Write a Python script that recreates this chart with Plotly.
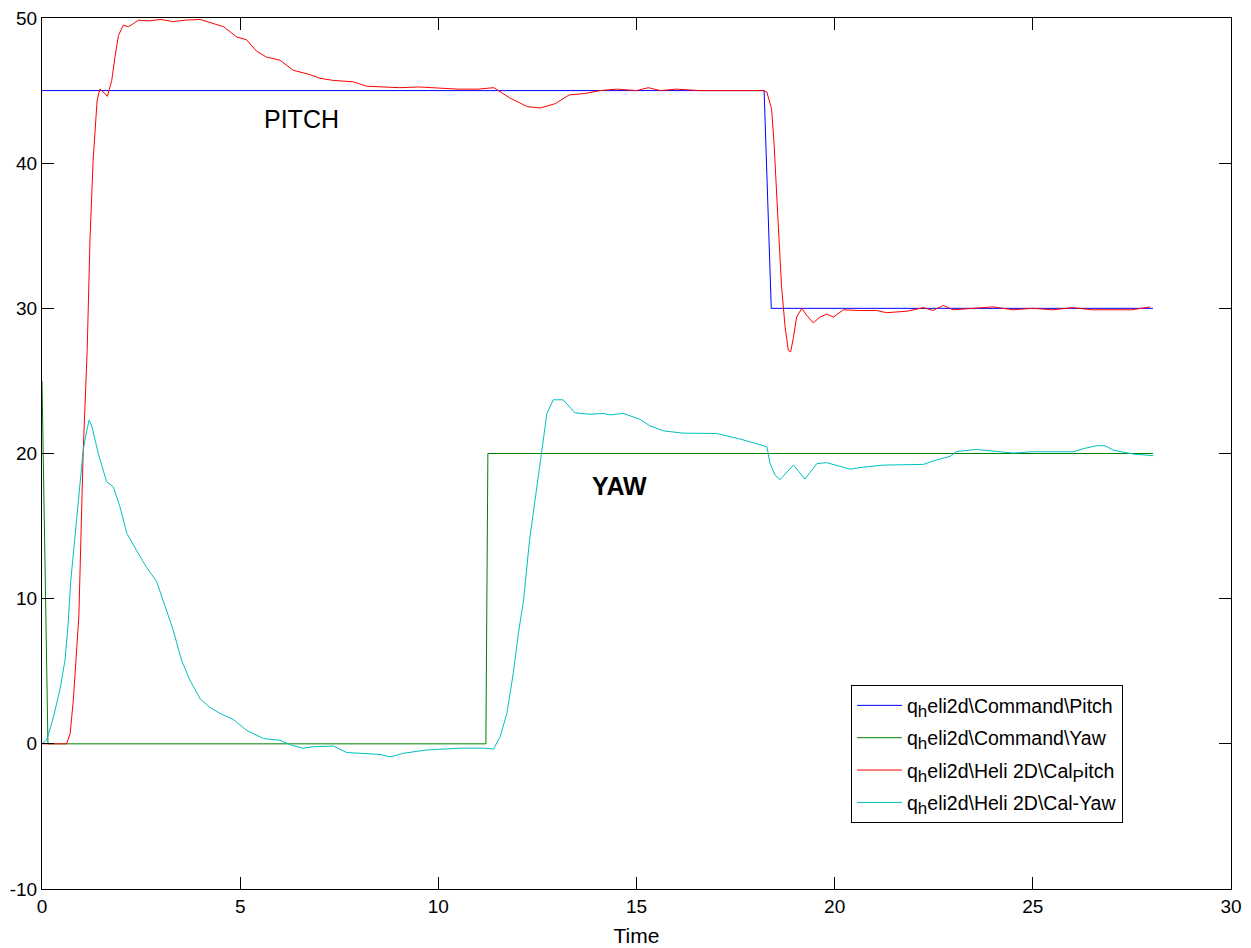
import plotly.graph_objects as go

# ---- data ----
pitch_cmd_t = [0, 18.22, 18.40, 28.03]
pitch_cmd_v = [45, 45, 30, 30]

yaw_cmd_t = [0, 0.15, 11.20, 11.25, 28.03]
yaw_cmd_v = [25, 0, 0, 20, 20]

pitch_t = [0, 0.62, 0.71, 0.79, 0.93, 1.04, 1.14, 1.21, 1.29, 1.39,
           1.46, 1.55, 1.65, 1.76, 1.84, 1.93, 2.05, 2.18, 2.30, 2.43,
           2.7, 3.0, 3.3, 3.6, 3.99, 4.32, 4.58, 4.91, 5.16, 5.42,
           5.67, 6.0, 6.34, 6.76, 7.01, 7.35, 7.86, 8.19, 9.03, 9.5,
           10.0, 10.5, 11.0, 11.4, 11.8, 12.24, 12.57, 12.95, 13.3, 13.7,
           14.08, 14.5, 15.0, 15.3, 15.6, 16.0, 16.6, 17.2, 17.8, 18.2,
           18.29, 18.41, 18.47, 18.5, 18.58, 18.66, 18.75, 18.83, 18.89, 18.96,
           19.04, 19.17, 19.3, 19.46, 19.63, 19.8, 19.97, 20.22, 20.6, 21.06,
           21.31, 21.82, 22.24, 22.48, 22.74, 22.99, 23.5, 24.0, 24.5, 25.0,
           25.5, 26.0, 26.5, 27.0, 27.5, 27.96]
pitch_v = [0, 0, 0.7, 3.0, 8.8, 20.2, 27.1, 34.7, 40.2, 44.3,
           45.1, 44.9, 44.6, 45.7, 47.3, 48.8, 49.5, 49.4, 49.6, 49.85,
           49.8, 49.9, 49.75, 49.85, 49.9, 49.6, 49.4, 48.7, 48.5, 47.7,
           47.3, 47.1, 46.4, 46.1, 45.85, 45.7, 45.6, 45.3, 45.2, 45.25,
           45.15, 45.1, 45.1, 45.2, 44.5, 43.9, 43.8, 44.1, 44.7, 44.8,
           45.0, 45.1, 45.0, 45.2, 45.0, 45.1, 45.0, 45.0, 45.0, 45.0,
           44.9, 43.7, 41.4, 39.5, 35.6, 31.5, 28.7, 27.1, 27.0, 28.0,
           29.4, 30.0, 29.5, 29.0, 29.4, 29.6, 29.4, 29.9, 29.85, 29.85,
           29.7, 29.8, 30.05, 29.85, 30.2, 29.9, 30.0, 30.1, 29.9, 30.0,
           29.9, 30.05, 29.9, 29.9, 29.9, 30.1]

yaw_t = [0, 0.12, 0.29, 0.45, 0.58, 0.66, 0.72, 0.83, 0.94, 1.04,
         1.13, 1.19, 1.25, 1.42, 1.63, 1.80, 1.97, 2.14, 2.39, 2.64,
         2.89, 3.06, 3.31, 3.52, 3.73, 3.99, 4.24, 4.49, 4.83, 5.16,
         5.59, 6.00, 6.30, 6.59, 6.85, 7.35, 7.69, 8.53, 8.78, 9.12,
         9.71, 10.55, 11.18, 11.39, 11.56, 11.73, 11.89, 12.02, 12.15, 12.30,
         12.44, 12.57, 12.74, 12.90, 13.15, 13.45, 13.83, 14.16, 14.33, 14.67,
         15.09, 15.34, 15.68, 16.18, 17.02, 17.61, 18.03, 18.29, 18.37, 18.50,
         18.62, 18.96, 19.25, 19.55, 19.80, 20.39, 20.72, 21.23, 22.24, 22.57,
         22.91, 23.08, 23.58, 24.00, 24.51, 25.01, 26.02, 26.27, 26.61, 26.82,
         27.03, 27.54, 28.04]
yaw_v = [0, 0.27, 1.86, 3.7, 5.75, 8.27, 11.06, 14.27, 17.5, 20.24,
         21.6, 22.3, 21.96, 20.0, 18.06, 17.7, 16.3, 14.5, 13.3, 12.15,
         11.2, 9.9, 7.84, 5.77, 4.4, 3.1, 2.5, 2.1, 1.67, 0.93,
         0.36, 0.25, -0.1, -0.3, -0.2, -0.15, -0.6, -0.73, -0.9, -0.65,
         -0.42, -0.3, -0.3, -0.37, 0.5, 2.1, 4.85, 7.6, 9.9, 14.0,
         16.8, 19.5, 22.76, 23.7, 23.7, 22.8, 22.7, 22.76, 22.66, 22.76,
         22.35, 21.9, 21.56, 21.4, 21.38, 21.0, 20.7, 20.47, 19.3, 18.5,
         18.2, 19.2, 18.24, 19.3, 19.37, 18.92, 19.06, 19.2, 19.25, 19.55,
         19.8, 20.14, 20.28, 20.16, 20.03, 20.12, 20.12, 20.33, 20.54, 20.54,
         20.23, 19.96, 19.85]

SUB = "<sub><span style='font-size:17px'>%s</span></sub>"
names = ["q" + SUB % "h" + "eli2d\\Command\\Pitch",
         "q" + SUB % "h" + "eli2d\\Command\\Yaw",
         "q" + SUB % "h" + "eli2d\\Heli 2D\\Cal" + SUB % "P" + "itch",
         "q" + SUB % "h" + "eli2d\\Heli 2D\\Cal-Yaw"]
colors = ["#0000ff", "#008000", "#ff0000", "#00bfbf"]

x_ticks = [0, 5, 10, 15, 20, 25, 30]
x_tick_text = ["0", "5", "10", "15", "20", "25", "30"]
y_ticks = [-10, 0, 10, 20, 30, 40, 50]
y_tick_text = ["-10", "0", "10", "20", "30", "40", "50"]

FONT = "Arial, Liberation Sans, sans-serif"

fig = go.Figure()
series = [(pitch_cmd_t, pitch_cmd_v), (yaw_cmd_t, yaw_cmd_v),
          (pitch_t, pitch_v), (yaw_t, yaw_v)]
for i, ((tx, vy), nm, col) in enumerate(zip(series, names, colors)):
    fig.add_trace(go.Scatter(x=tx, y=vy, mode="lines", name=nm,
                             legendgroup=f"g{i}",
                             line=dict(color=col, width=1)))

fig.add_annotation(x=6.56, y=43.04, text="PITCH", showarrow=False,
                   font=dict(family=FONT, size=25, color="black"))
fig.add_annotation(x=14.56, y=17.76, text="<b>YAW</b>", showarrow=False,
                   font=dict(family=FONT, size=25, color="black"))

axis_common = dict(showline=True, linecolor="black", linewidth=1,
                   mirror="ticks", ticks="inside", ticklen=12,
                   tickcolor="black", showgrid=False, zeroline=False,
                   automargin=False, ticklabeloverflow="allow",
                   tickfont=dict(family=FONT, size=19, color="black"))

fig.update_xaxes(range=[0, 30], tickvals=x_ticks, ticktext=x_tick_text,
                 title=dict(text="Time", font=dict(family=FONT, size=21, color="black"),
                            standoff=12),
                 **axis_common)
fig.update_yaxes(range=[-10, 50], tickvals=y_ticks, ticktext=y_tick_text,
                 **axis_common)

# the page body adds an 8px offset, margins compensate for it
fig.update_layout(
    width=1251, height=948,
    margin=dict(l=34, r=28, t=10, b=67, autoexpand=False),
    plot_bgcolor="white", paper_bgcolor="white",
    font=dict(family=FONT, color="black"),
    legend=dict(x=0.6804, y=0.234, xanchor="left", yanchor="top",
                bgcolor="white", bordercolor="black", borderwidth=1,
                font=dict(family=FONT, size=19.5, color="black"),
                itemwidth=45, tracegroupgap=4),
)

fig.write_html("out.html")
